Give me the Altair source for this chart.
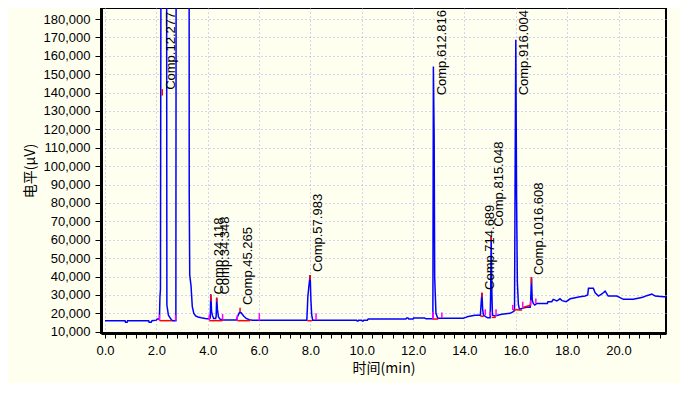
import altair as alt
import pandas as pd

# ---- chromatogram trace (time in min, signal in µV) ----
time_min = [0.00, 0.78, 0.80, 0.86, 0.88, 1.70, 1.72, 1.80, 1.83, 2.00, 2.04, 2.12,
            2.14, 2.16, 2.20, 2.39, 2.41, 2.47, 2.56, 2.62, 2.76, 2.78, 3.27, 3.28,
            3.30, 3.35, 3.40, 3.46, 3.53, 3.62, 3.75, 3.90, 4.06, 4.10, 4.12, 4.15,
            4.18, 4.23, 4.31, 4.33, 4.35, 4.38, 4.42, 4.48, 4.60, 5.12, 5.17, 5.24,
            5.30, 5.40, 5.50, 5.62, 5.75, 7.86, 7.88, 7.90, 7.94, 7.99, 8.02, 8.05,
            8.09, 9.80, 9.82, 9.86, 9.88, 10.00, 10.02, 10.06, 10.08, 10.22, 10.25, 11.72,
            11.75, 11.80, 11.83, 12.00, 12.02, 12.45, 12.50, 12.77, 12.79, 12.82, 12.84, 12.89,
            12.96, 13.95, 14.06, 14.10, 14.41, 14.62, 14.65, 14.68, 14.71, 14.74, 14.84, 14.90,
            15.00, 15.02, 15.04, 15.07, 15.09, 15.19, 15.45, 15.78, 15.90, 15.95, 15.98, 16.00,
            16.03, 16.06, 16.10, 16.14, 16.23, 16.43, 16.56, 16.58, 16.61, 16.64, 16.68, 16.74,
            16.82, 17.23, 17.25, 17.40, 17.46, 17.60, 17.72, 17.80, 17.96, 18.12, 18.31, 18.50,
            18.70, 18.80, 18.83, 19.02, 19.09, 19.22, 19.35, 19.48, 19.60, 19.93, 20.04, 20.19,
            20.58, 20.94, 21.10, 21.30, 21.43, 21.75, 21.85]
signal_uv = [16000, 16000, 15100, 15100, 16000, 16000, 15100, 15100, 16000, 16300, 16900, 16900,
             28900, 33000, 400000, 400000, 24500, 19000, 17000, 16000, 16000, 400000, 400000, 85600,
             40800, 35000, 23600, 20000, 18600, 18000, 17600, 17200, 16900, 17500, 30300, 21200,
             19000, 17200, 17200, 18500, 28500, 22000, 18000, 16800, 16400, 16400, 18500, 20500,
             20300, 18500, 17200, 16500, 16300, 16300, 22000, 29000, 34500, 40800, 27200, 19100,
             16300, 16300, 15800, 15800, 16300, 16300, 15800, 15800, 16300, 16300, 16900, 16900,
             17500, 17500, 16900, 16900, 17500, 17500, 17000, 17000, 154200, 116100, 39900, 20000,
             17300, 17300, 17800, 18100, 19000, 19000, 25400, 31200, 22000, 19000, 18100, 17600,
             17600, 30000, 61700, 30000, 19000, 18500, 19500, 20000, 20900, 21500, 114300, 168700,
             83500, 37200, 25000, 22200, 22700, 23300, 23300, 27000, 39600, 27200, 25400, 24500,
             25400, 25400, 26300, 26300, 27600, 26700, 27900, 26900, 26300, 27900, 28500, 29000,
             29400, 30000, 33600, 33600, 31200, 29400, 30500, 32100, 29400, 29400, 28700, 27600,
             27600, 28700, 29600, 30500, 29400, 29000, 29000]

# ---- integration marks ----
apex_time = [2.23, 4.12, 4.35, 5.26, 7.99, 14.68, 15.04, 16.61]
apex_low = [138400, 26700, 26300, 20700, 38100, 28700, 59000, 36300]
apex_high = [141900, 30300, 28500, 23000, 40800, 31200, 61700, 39600]

tick_time = [2.12, 2.75, 4.06, 4.58, 5.15, 6.01, 8.22, 12.77, 13.12, 14.81, 15.00, 15.23,
             15.88, 16.27, 16.58, 16.78]
tick_low = [16000, 16000, 16400, 16400, 16400, 16000, 16400, 16700, 17600, 19000, 18700, 18500,
            21800, 23300, 24500, 25400]
tick_high = [19300, 19000, 19300, 19600, 19000, 20000, 20000, 20800, 20500, 22200, 21000, 22200,
             24600, 26300, 27200, 28100]

base_t1 = [2.12, 4.06, 5.15, 7.88, 12.77, 14.62, 15.06, 15.90, 16.30]
base_v1 = [16000, 16000, 16000, 16000, 16900, 18500, 17800, 22000, 23300]
base_t2 = [2.60, 4.58, 5.65, 8.06, 12.98, 14.75, 15.22, 16.25, 16.60]
base_v2 = [16000, 16000, 16000, 16000, 16900, 18300, 17800, 21800, 24500]

# ---- peak labels ----
label_text = ["Comp.12.277", "Comp.24.118", "Comp.34.348", "Comp.45.265", "Comp.57.983",
              "Comp.612.816", "Comp.714.689", "Comp.815.048", "Comp.916.004", "Comp.1016.608"]
label_time = [2.277, 4.118, 4.348, 5.265, 7.983, 12.816, 14.689, 15.048, 16.004, 16.608]
label_level = [141500, 30200, 30200, 24500, 42500, 138500, 32700, 67000, 138500, 40800]

# ---- axes ----
x_tick_values = [0.0, 0.4, 0.8, 1.2, 1.6, 2.0, 2.4, 2.8, 3.2, 3.6, 4.0, 4.4, 4.8, 5.2, 5.6,
                 6.0, 6.4, 6.8, 7.2, 7.6, 8.0, 8.4, 8.8, 9.2, 9.6, 10.0, 10.4, 10.8, 11.2,
                 11.6, 12.0, 12.4, 12.8, 13.2, 13.6, 14.0, 14.4, 14.8, 15.2, 15.6, 16.0, 16.4,
                 16.8, 17.2, 17.6, 18.0, 18.4, 18.8, 19.2, 19.6, 20.0, 20.4, 20.8, 21.2, 21.6]
y_tick_values = [10000, 20000, 30000, 40000, 50000, 60000, 70000, 80000, 90000, 100000,
                 110000, 120000, 130000, 140000, 150000, 160000, 170000, 180000]

BG = "#FFFFF0"
GRID = "#A8A8F0"
LATIN = "Liberation Sans"
CJK = "Noto Sans CJK SC"
MAJOR_X = "abs(datum.value/2 - round(datum.value/2)) < 0.001"

xscale = alt.Scale(domain=[-0.156, 21.85], nice=False, zero=False)
yscale = alt.Scale(domain=[9300, 186000], nice=False, zero=False)

trace = pd.DataFrame({"t": time_min, "v": signal_uv})
apex = pd.DataFrame({"t": apex_time, "lo": apex_low, "hi": apex_high})
ticks = pd.DataFrame({"t": tick_time, "lo": tick_low, "hi": tick_high})
bases = pd.DataFrame({"t1": base_t1, "v1": base_v1, "t2": base_t2, "v2": base_v2})
labels = pd.DataFrame({"name": label_text, "t": label_time, "v": label_level})

x_axis = alt.Axis(
    values=x_tick_values,
    labelExpr=MAJOR_X + " ? format(datum.value, '.1f') : ''",
    title="时间(min)", titleFont=CJK, titleFontSize=14, titleFontWeight="normal",
    titleColor="black", titlePadding=4,
    labelFont=LATIN, labelFontSize=13, labelColor="black", labelPadding=6,
    labelFlush=False, labelOverlap=False, labelBound=False,
    tickSize=5, tickColor="black", tickWidth=1,
    domainColor="black", domainWidth=3,
    grid=True, gridDash=[1, 3], gridColor=GRID, gridWidth=1,
    gridOpacity={"condition": {"test": MAJOR_X, "value": 1}, "value": 0},
)
y_axis = alt.Axis(
    values=y_tick_values, format=",.0f",
    title="电平(μV)", titleFont=CJK, titleFontSize=14, titleFontWeight="normal",
    titleColor="black", titlePadding=6,
    labelFont=LATIN, labelFontSize=13, labelColor="black", labelPadding=5,
    labelFlush=False, labelOverlap=False, labelBound=False,
    tickSize=6, tickColor="black", tickWidth=1,
    domainColor="black", domainWidth=3,
    grid=True, gridDash=[1, 3], gridColor=GRID, gridWidth=1,
)

line = alt.Chart(trace).mark_line(color="#0000FF", strokeWidth=1.5, clip=True,
                                   interpolate="linear").encode(
    x=alt.X("t:Q", scale=xscale, axis=x_axis),
    y=alt.Y("v:Q", scale=yscale, axis=y_axis),
    order="t:Q",
)

base_rules = alt.Chart(bases).mark_rule(color="#FF0000", strokeWidth=1.5, clip=True).encode(
    x=alt.X("t1:Q", scale=xscale, axis=x_axis), x2="t2:Q",
    y=alt.Y("v1:Q", scale=yscale, axis=y_axis), y2="v2:Q",
)

tick_rules = alt.Chart(ticks).mark_rule(color="#FF00FF", strokeWidth=1.5, clip=True).encode(
    x=alt.X("t:Q", scale=xscale, axis=x_axis),
    y=alt.Y("lo:Q", scale=yscale, axis=y_axis), y2="hi:Q",
)

apex_rules = alt.Chart(apex).mark_rule(color="#FF0000", strokeWidth=1.5, clip=True).encode(
    x=alt.X("t:Q", scale=xscale, axis=x_axis),
    y=alt.Y("lo:Q", scale=yscale, axis=y_axis), y2="hi:Q",
)

label_marks = alt.Chart(labels).mark_text(
    angle=270, align="left", baseline="middle", xOffset=8,
    font=LATIN, fontSize=13, color="black", clip=True,
).encode(
    x=alt.X("t:Q", scale=xscale, axis=x_axis),
    y=alt.Y("v:Q", scale=yscale, axis=y_axis),
    text="name:N",
)

chart = alt.layer(line, base_rules, tick_rules, apex_rules, label_marks).properties(
    width=565, height=325,
    padding={"left": 93, "top": 0, "right": 14, "bottom": 50},
    autosize=alt.AutoSizeParams(type="none"),
    background=BG,
).configure_view(stroke="black", strokeWidth=2, fill=BG).configure_axis(
    labelOverlap=False
)

chart.save("out.html", embed_options={"renderer": "svg", "actions": False})
